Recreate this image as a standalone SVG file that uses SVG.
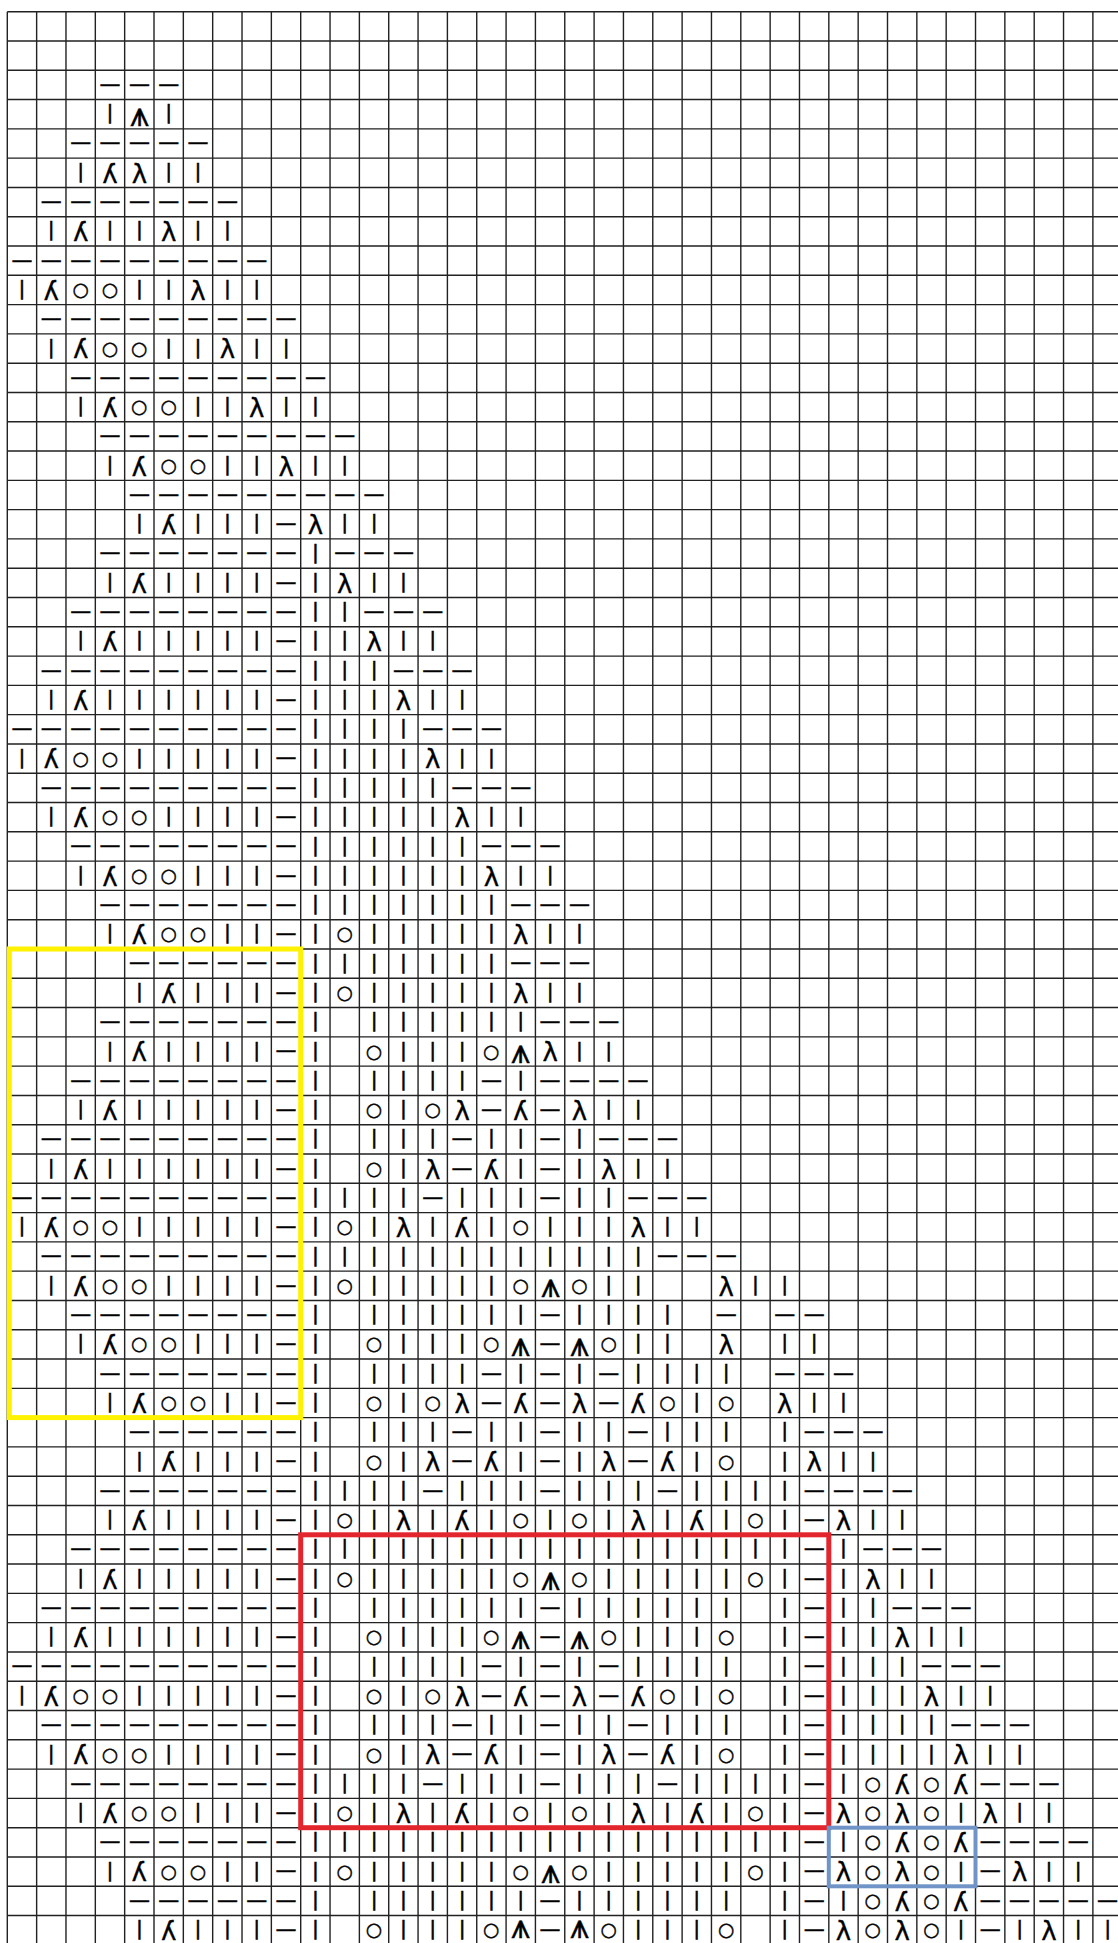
<svg xmlns="http://www.w3.org/2000/svg" width="1118" height="1943" viewBox="0 0 1118 1943">
<style>
.g{fill:none;stroke:#222;stroke-width:1.4}
text{font-family:"DejaVu Sans","Noto Sans",sans-serif;text-anchor:middle;fill:#000}
.k{font-size:19px;stroke:#000;stroke-width:0.6}
.p{font-size:21px;stroke:#000;stroke-width:0.4}
.o{font-size:19px;stroke:#000;stroke-width:0.4}
.r,.l{font-size:26px;stroke:#000;stroke-width:0.35}
.c{font-size:34px;stroke:#000;stroke-width:0.4}
.box{fill:none}
</style>
<rect width="1118" height="1943" fill="#fff"/>
<g id="grid"><path class="g" d="M7.3 11.7V1943M36.64 11.7V1943M65.98 11.7V1943M95.32 11.7V1943M124.66 11.7V1943M154 11.7V1943M183.34 11.7V1943M212.68 11.7V1943M242.02 11.7V1943M271.36 11.7V1943M300.7 11.7V1943M330.04 11.7V1943M359.38 11.7V1943M388.72 11.7V1943M418.06 11.7V1943M447.4 11.7V1943M476.74 11.7V1943M506.08 11.7V1943M535.42 11.7V1943M564.76 11.7V1943M594.1 11.7V1943M623.44 11.7V1943M652.78 11.7V1943M682.12 11.7V1943M711.46 11.7V1943M740.8 11.7V1943M770.14 11.7V1943M799.48 11.7V1943M828.82 11.7V1943M858.16 11.7V1943M887.5 11.7V1943M916.84 11.7V1943M946.18 11.7V1943M975.52 11.7V1943M1004.86 11.7V1943M1034.2 11.7V1943M1063.54 11.7V1943M1092.88 11.7V1943M7.3 11.7H1118M7.3 40.99H1118M7.3 70.28H1118M7.3 99.57H1118M7.3 128.86H1118M7.3 158.15H1118M7.3 187.44H1118M7.3 216.73H1118M7.3 246.02H1118M7.3 275.31H1118M7.3 304.6H1118M7.3 333.89H1118M7.3 363.18H1118M7.3 392.47H1118M7.3 421.76H1118M7.3 451.05H1118M7.3 480.34H1118M7.3 509.63H1118M7.3 538.92H1118M7.3 568.21H1118M7.3 597.5H1118M7.3 626.79H1118M7.3 656.08H1118M7.3 685.37H1118M7.3 714.66H1118M7.3 743.95H1118M7.3 773.24H1118M7.3 802.53H1118M7.3 831.82H1118M7.3 861.11H1118M7.3 890.4H1118M7.3 919.69H1118M7.3 948.98H1118M7.3 978.27H1118M7.3 1007.56H1118M7.3 1036.85H1118M7.3 1066.14H1118M7.3 1095.43H1118M7.3 1124.72H1118M7.3 1154.01H1118M7.3 1183.3H1118M7.3 1212.59H1118M7.3 1241.88H1118M7.3 1271.17H1118M7.3 1300.46H1118M7.3 1329.75H1118M7.3 1359.04H1118M7.3 1388.33H1118M7.3 1417.62H1118M7.3 1446.91H1118M7.3 1476.2H1118M7.3 1505.49H1118M7.3 1534.78H1118M7.3 1564.07H1118M7.3 1593.36H1118M7.3 1622.65H1118M7.3 1651.94H1118M7.3 1681.23H1118M7.3 1710.52H1118M7.3 1739.81H1118M7.3 1769.1H1118M7.3 1798.39H1118M7.3 1827.68H1118M7.3 1856.97H1118M7.3 1886.26H1118M7.3 1915.55H1118"/></g>
<g id="rows">
<g id="r02" transform="translate(0 84.9)"><text class="p" x="110.0 139.4 168.7" y="5.8">———</text></g>
<g id="r03" transform="translate(0 114.2)"><text class="k" x="110.0" y="5">|</text><text class="c" x="139.4" y="11.5">⩚</text><text class="k" x="168.7" y="5">|</text></g>
<g id="r04" transform="translate(0 143.5)"><text class="p" x="80.7 110.0 139.4 168.7 198.0" y="5.8">—————</text></g>
<g id="r05" transform="translate(0 172.8)"><text class="k" x="80.7" y="5">|</text><text class="l" transform="scale(-1 1)" x="-110.0" y="9.8">λ</text><text class="r" x="139.4" y="9.8">λ</text><text class="k" x="168.7 198.0" y="5">||</text></g>
<g id="r06" transform="translate(0 202.1)"><text class="p" x="51.3 80.7 110.0 139.4 168.7 198.0 227.4" y="5.8">———————</text></g>
<g id="r07" transform="translate(0 231.4)"><text class="k" x="51.3" y="5">|</text><text class="l" transform="scale(-1 1)" x="-80.7" y="9.8">λ</text><text class="k" x="110.0 139.4" y="5">||</text><text class="r" x="168.7" y="9.8">λ</text><text class="k" x="198.0 227.4" y="5">||</text></g>
<g id="r08" transform="translate(0 260.7)"><text class="p" x="22.0 51.3 80.7 110.0 139.4 168.7 198.0 227.4 256.7" y="5.8">—————————</text></g>
<g id="r09" transform="translate(0 290.0)"><text class="k" x="22.0" y="5">|</text><text class="l" transform="scale(-1 1)" x="-51.3" y="9.8">λ</text><text class="o" x="80.7 110.0" y="6">○○</text><text class="k" x="139.4 168.7" y="5">||</text><text class="r" x="198.0" y="9.8">λ</text><text class="k" x="227.4 256.7" y="5">||</text></g>
<g id="r10" transform="translate(0 319.3)"><text class="p" x="51.3 80.7 110.0 139.4 168.7 198.0 227.4 256.7 286.1" y="5.8">—————————</text></g>
<g id="r11" transform="translate(0 348.5)"><text class="k" x="51.3" y="5">|</text><text class="l" transform="scale(-1 1)" x="-80.7" y="9.8">λ</text><text class="o" x="110.0 139.4" y="6">○○</text><text class="k" x="168.7 198.0" y="5">||</text><text class="r" x="227.4" y="9.8">λ</text><text class="k" x="256.7 286.1" y="5">||</text></g>
<g id="r12" transform="translate(0 377.8)"><text class="p" x="80.7 110.0 139.4 168.7 198.0 227.4 256.7 286.1 315.4" y="5.8">—————————</text></g>
<g id="r13" transform="translate(0 407.1)"><text class="k" x="80.7" y="5">|</text><text class="l" transform="scale(-1 1)" x="-110.0" y="9.8">λ</text><text class="o" x="139.4 168.7" y="6">○○</text><text class="k" x="198.0 227.4" y="5">||</text><text class="r" x="256.7" y="9.8">λ</text><text class="k" x="286.1 315.4" y="5">||</text></g>
<g id="r14" transform="translate(0 436.4)"><text class="p" x="110.0 139.4 168.7 198.0 227.4 256.7 286.1 315.4 344.7" y="5.8">—————————</text></g>
<g id="r15" transform="translate(0 465.7)"><text class="k" x="110.0" y="5">|</text><text class="l" transform="scale(-1 1)" x="-139.4" y="9.8">λ</text><text class="o" x="168.7 198.0" y="6">○○</text><text class="k" x="227.4 256.7" y="5">||</text><text class="r" x="286.1" y="9.8">λ</text><text class="k" x="315.4 344.7" y="5">||</text></g>
<g id="r16" transform="translate(0 495.0)"><text class="p" x="139.4 168.7 198.0 227.4 256.7 286.1 315.4 344.7 374.1" y="5.8">—————————</text></g>
<g id="r17" transform="translate(0 524.3)"><text class="k" x="139.4" y="5">|</text><text class="l" transform="scale(-1 1)" x="-168.7" y="9.8">λ</text><text class="k" x="198.0 227.4 256.7" y="5">|||</text><text class="p" x="286.1" y="5.8">—</text><text class="r" x="315.4" y="9.8">λ</text><text class="k" x="344.7 374.1" y="5">||</text></g>
<g id="r18" transform="translate(0 553.6)"><text class="p" x="110.0 139.4 168.7 198.0 227.4 256.7 286.1" y="5.8">———————</text><text class="k" x="315.4" y="5">|</text><text class="p" x="344.7 374.1 403.4" y="5.8">———</text></g>
<g id="r19" transform="translate(0 582.9)"><text class="k" x="110.0" y="5">|</text><text class="l" transform="scale(-1 1)" x="-139.4" y="9.8">λ</text><text class="k" x="168.7 198.0 227.4 256.7" y="5">||||</text><text class="p" x="286.1" y="5.8">—</text><text class="k" x="315.4" y="5">|</text><text class="r" x="344.7" y="9.8">λ</text><text class="k" x="374.1 403.4" y="5">||</text></g>
<g id="r20" transform="translate(0 612.2)"><text class="p" x="80.7 110.0 139.4 168.7 198.0 227.4 256.7 286.1" y="5.8">————————</text><text class="k" x="315.4 344.7" y="5">||</text><text class="p" x="374.1 403.4 432.8" y="5.8">———</text></g>
<g id="r21" transform="translate(0 641.4)"><text class="k" x="80.7" y="5">|</text><text class="l" transform="scale(-1 1)" x="-110.0" y="9.8">λ</text><text class="k" x="139.4 168.7 198.0 227.4 256.7" y="5">|||||</text><text class="p" x="286.1" y="5.8">—</text><text class="k" x="315.4 344.7" y="5">||</text><text class="r" x="374.1" y="9.8">λ</text><text class="k" x="403.4 432.8" y="5">||</text></g>
<g id="r22" transform="translate(0 670.7)"><text class="p" x="51.3 80.7 110.0 139.4 168.7 198.0 227.4 256.7 286.1" y="5.8">—————————</text><text class="k" x="315.4 344.7 374.1" y="5">|||</text><text class="p" x="403.4 432.8 462.1" y="5.8">———</text></g>
<g id="r23" transform="translate(0 700.0)"><text class="k" x="51.3" y="5">|</text><text class="l" transform="scale(-1 1)" x="-80.7" y="9.8">λ</text><text class="k" x="110.0 139.4 168.7 198.0 227.4 256.7" y="5">||||||</text><text class="p" x="286.1" y="5.8">—</text><text class="k" x="315.4 344.7 374.1" y="5">|||</text><text class="r" x="403.4" y="9.8">λ</text><text class="k" x="432.8 462.1" y="5">||</text></g>
<g id="r24" transform="translate(0 729.3)"><text class="p" x="22.0 51.3 80.7 110.0 139.4 168.7 198.0 227.4 256.7 286.1" y="5.8">——————————</text><text class="k" x="315.4 344.7 374.1 403.4" y="5">||||</text><text class="p" x="432.8 462.1 491.4" y="5.8">———</text></g>
<g id="r25" transform="translate(0 758.6)"><text class="k" x="22.0" y="5">|</text><text class="l" transform="scale(-1 1)" x="-51.3" y="9.8">λ</text><text class="o" x="80.7 110.0" y="6">○○</text><text class="k" x="139.4 168.7 198.0 227.4 256.7" y="5">|||||</text><text class="p" x="286.1" y="5.8">—</text><text class="k" x="315.4 344.7 374.1 403.4" y="5">||||</text><text class="r" x="432.8" y="9.8">λ</text><text class="k" x="462.1 491.4" y="5">||</text></g>
<g id="r26" transform="translate(0 787.9)"><text class="p" x="51.3 80.7 110.0 139.4 168.7 198.0 227.4 256.7 286.1" y="5.8">—————————</text><text class="k" x="315.4 344.7 374.1 403.4 432.8" y="5">|||||</text><text class="p" x="462.1 491.4 520.8" y="5.8">———</text></g>
<g id="r27" transform="translate(0 817.2)"><text class="k" x="51.3" y="5">|</text><text class="l" transform="scale(-1 1)" x="-80.7" y="9.8">λ</text><text class="o" x="110.0 139.4" y="6">○○</text><text class="k" x="168.7 198.0 227.4 256.7" y="5">||||</text><text class="p" x="286.1" y="5.8">—</text><text class="k" x="315.4 344.7 374.1 403.4 432.8" y="5">|||||</text><text class="r" x="462.1" y="9.8">λ</text><text class="k" x="491.4 520.8" y="5">||</text></g>
<g id="r28" transform="translate(0 846.5)"><text class="p" x="80.7 110.0 139.4 168.7 198.0 227.4 256.7 286.1" y="5.8">————————</text><text class="k" x="315.4 344.7 374.1 403.4 432.8 462.1" y="5">||||||</text><text class="p" x="491.4 520.8 550.1" y="5.8">———</text></g>
<g id="r29" transform="translate(0 875.8)"><text class="k" x="80.7" y="5">|</text><text class="l" transform="scale(-1 1)" x="-110.0" y="9.8">λ</text><text class="o" x="139.4 168.7" y="6">○○</text><text class="k" x="198.0 227.4 256.7" y="5">|||</text><text class="p" x="286.1" y="5.8">—</text><text class="k" x="315.4 344.7 374.1 403.4 432.8 462.1" y="5">||||||</text><text class="r" x="491.4" y="9.8">λ</text><text class="k" x="520.8 550.1" y="5">||</text></g>
<g id="r30" transform="translate(0 905.1)"><text class="p" x="110.0 139.4 168.7 198.0 227.4 256.7 286.1" y="5.8">———————</text><text class="k" x="315.4 344.7 374.1 403.4 432.8 462.1 491.4" y="5">|||||||</text><text class="p" x="520.8 550.1 579.5" y="5.8">———</text></g>
<g id="r31" transform="translate(0 934.3)"><text class="k" x="110.0" y="5">|</text><text class="l" transform="scale(-1 1)" x="-139.4" y="9.8">λ</text><text class="o" x="168.7 198.0" y="6">○○</text><text class="k" x="227.4 256.7" y="5">||</text><text class="p" x="286.1" y="5.8">—</text><text class="k" x="315.4" y="5">|</text><text class="o" x="344.7" y="6">○</text><text class="k" x="374.1 403.4 432.8 462.1 491.4" y="5">|||||</text><text class="r" x="520.8" y="9.8">λ</text><text class="k" x="550.1 579.5" y="5">||</text></g>
<g id="r32" transform="translate(0 963.6)"><text class="p" x="139.4 168.7 198.0 227.4 256.7 286.1" y="5.8">——————</text><text class="k" x="315.4 344.7 374.1 403.4 432.8 462.1 491.4" y="5">|||||||</text><text class="p" x="520.8 550.1 579.5" y="5.8">———</text></g>
<g id="r33" transform="translate(0 992.9)"><text class="k" x="139.4" y="5">|</text><text class="l" transform="scale(-1 1)" x="-168.7" y="9.8">λ</text><text class="k" x="198.0 227.4 256.7" y="5">|||</text><text class="p" x="286.1" y="5.8">—</text><text class="k" x="315.4" y="5">|</text><text class="o" x="344.7" y="6">○</text><text class="k" x="374.1 403.4 432.8 462.1 491.4" y="5">|||||</text><text class="r" x="520.8" y="9.8">λ</text><text class="k" x="550.1 579.5" y="5">||</text></g>
<g id="r34" transform="translate(0 1022.2)"><text class="p" x="110.0 139.4 168.7 198.0 227.4 256.7 286.1" y="5.8">———————</text><text class="k" x="315.4 374.1 403.4 432.8 462.1 491.4 520.8" y="5">|||||||</text><text class="p" x="550.1 579.5 608.8" y="5.8">———</text></g>
<g id="r35" transform="translate(0 1051.5)"><text class="k" x="110.0" y="5">|</text><text class="l" transform="scale(-1 1)" x="-139.4" y="9.8">λ</text><text class="k" x="168.7 198.0 227.4 256.7" y="5">||||</text><text class="p" x="286.1" y="5.8">—</text><text class="k" x="315.4" y="5">|</text><text class="o" x="374.1" y="6">○</text><text class="k" x="403.4 432.8 462.1" y="5">|||</text><text class="o" x="491.4" y="6">○</text><text class="c" x="520.8" y="11.5">⩚</text><text class="r" x="550.1" y="9.8">λ</text><text class="k" x="579.5 608.8" y="5">||</text></g>
<g id="r36" transform="translate(0 1080.8)"><text class="p" x="80.7 110.0 139.4 168.7 198.0 227.4 256.7 286.1" y="5.8">————————</text><text class="k" x="315.4 374.1 403.4 432.8 462.1" y="5">|||||</text><text class="p" x="491.4" y="5.8">—</text><text class="k" x="520.8" y="5">|</text><text class="p" x="550.1 579.5 608.8 638.1" y="5.8">————</text></g>
<g id="r37" transform="translate(0 1110.1)"><text class="k" x="80.7" y="5">|</text><text class="l" transform="scale(-1 1)" x="-110.0" y="9.8">λ</text><text class="k" x="139.4 168.7 198.0 227.4 256.7" y="5">|||||</text><text class="p" x="286.1" y="5.8">—</text><text class="k" x="315.4" y="5">|</text><text class="o" x="374.1" y="6">○</text><text class="k" x="403.4" y="5">|</text><text class="o" x="432.8" y="6">○</text><text class="r" x="462.1" y="9.8">λ</text><text class="p" x="491.4" y="5.8">—</text><text class="l" transform="scale(-1 1)" x="-520.8" y="9.8">λ</text><text class="p" x="550.1" y="5.8">—</text><text class="r" x="579.5" y="9.8">λ</text><text class="k" x="608.8 638.1" y="5">||</text></g>
<g id="r38" transform="translate(0 1139.4)"><text class="p" x="51.3 80.7 110.0 139.4 168.7 198.0 227.4 256.7 286.1" y="5.8">—————————</text><text class="k" x="315.4 374.1 403.4 432.8" y="5">||||</text><text class="p" x="462.1" y="5.8">—</text><text class="k" x="491.4 520.8" y="5">||</text><text class="p" x="550.1" y="5.8">—</text><text class="k" x="579.5" y="5">|</text><text class="p" x="608.8 638.1 667.5" y="5.8">———</text></g>
<g id="r39" transform="translate(0 1168.7)"><text class="k" x="51.3" y="5">|</text><text class="l" transform="scale(-1 1)" x="-80.7" y="9.8">λ</text><text class="k" x="110.0 139.4 168.7 198.0 227.4 256.7" y="5">||||||</text><text class="p" x="286.1" y="5.8">—</text><text class="k" x="315.4" y="5">|</text><text class="o" x="374.1" y="6">○</text><text class="k" x="403.4" y="5">|</text><text class="r" x="432.8" y="9.8">λ</text><text class="p" x="462.1" y="5.8">—</text><text class="l" transform="scale(-1 1)" x="-491.4" y="9.8">λ</text><text class="k" x="520.8" y="5">|</text><text class="p" x="550.1" y="5.8">—</text><text class="k" x="579.5" y="5">|</text><text class="r" x="608.8" y="9.8">λ</text><text class="k" x="638.1 667.5" y="5">||</text></g>
<g id="r40" transform="translate(0 1198.0)"><text class="p" x="22.0 51.3 80.7 110.0 139.4 168.7 198.0 227.4 256.7 286.1" y="5.8">——————————</text><text class="k" x="315.4 344.7 374.1 403.4" y="5">||||</text><text class="p" x="432.8" y="5.8">—</text><text class="k" x="462.1 491.4 520.8" y="5">|||</text><text class="p" x="550.1" y="5.8">—</text><text class="k" x="579.5 608.8" y="5">||</text><text class="p" x="638.1 667.5 696.8" y="5.8">———</text></g>
<g id="r41" transform="translate(0 1227.2)"><text class="k" x="22.0" y="5">|</text><text class="l" transform="scale(-1 1)" x="-51.3" y="9.8">λ</text><text class="o" x="80.7 110.0" y="6">○○</text><text class="k" x="139.4 168.7 198.0 227.4 256.7" y="5">|||||</text><text class="p" x="286.1" y="5.8">—</text><text class="k" x="315.4" y="5">|</text><text class="o" x="344.7" y="6">○</text><text class="k" x="374.1" y="5">|</text><text class="r" x="403.4" y="9.8">λ</text><text class="k" x="432.8" y="5">|</text><text class="l" transform="scale(-1 1)" x="-462.1" y="9.8">λ</text><text class="k" x="491.4" y="5">|</text><text class="o" x="520.8" y="6">○</text><text class="k" x="550.1 579.5 608.8" y="5">|||</text><text class="r" x="638.1" y="9.8">λ</text><text class="k" x="667.5 696.8" y="5">||</text></g>
<g id="r42" transform="translate(0 1256.5)"><text class="p" x="51.3 80.7 110.0 139.4 168.7 198.0 227.4 256.7 286.1" y="5.8">—————————</text><text class="k" x="315.4 344.7 374.1 403.4 432.8 462.1 491.4 520.8 550.1 579.5 608.8 638.1" y="5">||||||||||||</text><text class="p" x="667.5 696.8 726.2" y="5.8">———</text></g>
<g id="r43" transform="translate(0 1285.8)"><text class="k" x="51.3" y="5">|</text><text class="l" transform="scale(-1 1)" x="-80.7" y="9.8">λ</text><text class="o" x="110.0 139.4" y="6">○○</text><text class="k" x="168.7 198.0 227.4 256.7" y="5">||||</text><text class="p" x="286.1" y="5.8">—</text><text class="k" x="315.4" y="5">|</text><text class="o" x="344.7" y="6">○</text><text class="k" x="374.1 403.4 432.8 462.1 491.4" y="5">|||||</text><text class="o" x="520.8" y="6">○</text><text class="c" x="550.1" y="11.5">⩚</text><text class="o" x="579.5" y="6">○</text><text class="k" x="608.8 638.1" y="5">||</text><text class="r" x="726.2" y="9.8">λ</text><text class="k" x="755.5 784.8" y="5">||</text></g>
<g id="r44" transform="translate(0 1315.1)"><text class="p" x="80.7 110.0 139.4 168.7 198.0 227.4 256.7 286.1" y="5.8">————————</text><text class="k" x="315.4 374.1 403.4 432.8 462.1 491.4 520.8" y="5">|||||||</text><text class="p" x="550.1" y="5.8">—</text><text class="k" x="579.5 608.8 638.1 667.5" y="5">||||</text><text class="p" x="726.2 784.8 814.2" y="5.8">———</text></g>
<g id="r45" transform="translate(0 1344.4)"><text class="k" x="80.7" y="5">|</text><text class="l" transform="scale(-1 1)" x="-110.0" y="9.8">λ</text><text class="o" x="139.4 168.7" y="6">○○</text><text class="k" x="198.0 227.4 256.7" y="5">|||</text><text class="p" x="286.1" y="5.8">—</text><text class="k" x="315.4" y="5">|</text><text class="o" x="374.1" y="6">○</text><text class="k" x="403.4 432.8 462.1" y="5">|||</text><text class="o" x="491.4" y="6">○</text><text class="c" x="520.8" y="11.5">⩚</text><text class="p" x="550.1" y="5.8">—</text><text class="c" x="579.5" y="11.5">⩚</text><text class="o" x="608.8" y="6">○</text><text class="k" x="638.1 667.5" y="5">||</text><text class="r" x="726.2" y="9.8">λ</text><text class="k" x="784.8 814.2" y="5">||</text></g>
<g id="r46" transform="translate(0 1373.7)"><text class="p" x="110.0 139.4 168.7 198.0 227.4 256.7 286.1" y="5.8">———————</text><text class="k" x="315.4 374.1 403.4 432.8 462.1" y="5">|||||</text><text class="p" x="491.4" y="5.8">—</text><text class="k" x="520.8" y="5">|</text><text class="p" x="550.1" y="5.8">—</text><text class="k" x="579.5" y="5">|</text><text class="p" x="608.8" y="5.8">—</text><text class="k" x="638.1 667.5 696.8 726.2" y="5">||||</text><text class="p" x="784.8 814.2 843.5" y="5.8">———</text></g>
<g id="r47" transform="translate(0 1403.0)"><text class="k" x="110.0" y="5">|</text><text class="l" transform="scale(-1 1)" x="-139.4" y="9.8">λ</text><text class="o" x="168.7 198.0" y="6">○○</text><text class="k" x="227.4 256.7" y="5">||</text><text class="p" x="286.1" y="5.8">—</text><text class="k" x="315.4" y="5">|</text><text class="o" x="374.1" y="6">○</text><text class="k" x="403.4" y="5">|</text><text class="o" x="432.8" y="6">○</text><text class="r" x="462.1" y="9.8">λ</text><text class="p" x="491.4" y="5.8">—</text><text class="l" transform="scale(-1 1)" x="-520.8" y="9.8">λ</text><text class="p" x="550.1" y="5.8">—</text><text class="r" x="579.5" y="9.8">λ</text><text class="p" x="608.8" y="5.8">—</text><text class="l" transform="scale(-1 1)" x="-638.1" y="9.8">λ</text><text class="o" x="667.5" y="6">○</text><text class="k" x="696.8" y="5">|</text><text class="o" x="726.2" y="6">○</text><text class="r" x="784.8" y="9.8">λ</text><text class="k" x="814.2 843.5" y="5">||</text></g>
<g id="r48" transform="translate(0 1432.3)"><text class="p" x="139.4 168.7 198.0 227.4 256.7 286.1" y="5.8">——————</text><text class="k" x="315.4 374.1 403.4 432.8" y="5">||||</text><text class="p" x="462.1" y="5.8">—</text><text class="k" x="491.4 520.8" y="5">||</text><text class="p" x="550.1" y="5.8">—</text><text class="k" x="579.5 608.8" y="5">||</text><text class="p" x="638.1" y="5.8">—</text><text class="k" x="667.5 696.8 726.2 784.8" y="5">||||</text><text class="p" x="814.2 843.5 872.9" y="5.8">———</text></g>
<g id="r49" transform="translate(0 1461.6)"><text class="k" x="139.4" y="5">|</text><text class="l" transform="scale(-1 1)" x="-168.7" y="9.8">λ</text><text class="k" x="198.0 227.4 256.7" y="5">|||</text><text class="p" x="286.1" y="5.8">—</text><text class="k" x="315.4" y="5">|</text><text class="o" x="374.1" y="6">○</text><text class="k" x="403.4" y="5">|</text><text class="r" x="432.8" y="9.8">λ</text><text class="p" x="462.1" y="5.8">—</text><text class="l" transform="scale(-1 1)" x="-491.4" y="9.8">λ</text><text class="k" x="520.8" y="5">|</text><text class="p" x="550.1" y="5.8">—</text><text class="k" x="579.5" y="5">|</text><text class="r" x="608.8" y="9.8">λ</text><text class="p" x="638.1" y="5.8">—</text><text class="l" transform="scale(-1 1)" x="-667.5" y="9.8">λ</text><text class="k" x="696.8" y="5">|</text><text class="o" x="726.2" y="6">○</text><text class="k" x="784.8" y="5">|</text><text class="r" x="814.2" y="9.8">λ</text><text class="k" x="843.5 872.9" y="5">||</text></g>
<g id="r50" transform="translate(0 1490.9)"><text class="p" x="110.0 139.4 168.7 198.0 227.4 256.7 286.1" y="5.8">———————</text><text class="k" x="315.4 344.7 374.1 403.4" y="5">||||</text><text class="p" x="432.8" y="5.8">—</text><text class="k" x="462.1 491.4 520.8" y="5">|||</text><text class="p" x="550.1" y="5.8">—</text><text class="k" x="579.5 608.8 638.1" y="5">|||</text><text class="p" x="667.5" y="5.8">—</text><text class="k" x="696.8 726.2 755.5 784.8" y="5">||||</text><text class="p" x="814.2 843.5 872.9 902.2" y="5.8">————</text></g>
<g id="r51" transform="translate(0 1520.1)"><text class="k" x="110.0" y="5">|</text><text class="l" transform="scale(-1 1)" x="-139.4" y="9.8">λ</text><text class="k" x="168.7 198.0 227.4 256.7" y="5">||||</text><text class="p" x="286.1" y="5.8">—</text><text class="k" x="315.4" y="5">|</text><text class="o" x="344.7" y="6">○</text><text class="k" x="374.1" y="5">|</text><text class="r" x="403.4" y="9.8">λ</text><text class="k" x="432.8" y="5">|</text><text class="l" transform="scale(-1 1)" x="-462.1" y="9.8">λ</text><text class="k" x="491.4" y="5">|</text><text class="o" x="520.8" y="6">○</text><text class="k" x="550.1" y="5">|</text><text class="o" x="579.5" y="6">○</text><text class="k" x="608.8" y="5">|</text><text class="r" x="638.1" y="9.8">λ</text><text class="k" x="667.5" y="5">|</text><text class="l" transform="scale(-1 1)" x="-696.8" y="9.8">λ</text><text class="k" x="726.2" y="5">|</text><text class="o" x="755.5" y="6">○</text><text class="k" x="784.8" y="5">|</text><text class="p" x="814.2" y="5.8">—</text><text class="r" x="843.5" y="9.8">λ</text><text class="k" x="872.9 902.2" y="5">||</text></g>
<g id="r52" transform="translate(0 1549.4)"><text class="p" x="80.7 110.0 139.4 168.7 198.0 227.4 256.7 286.1" y="5.8">————————</text><text class="k" x="315.4 344.7 374.1 403.4 432.8 462.1 491.4 520.8 550.1 579.5 608.8 638.1 667.5 696.8 726.2 755.5 784.8" y="5">|||||||||||||||||</text><text class="p" x="814.2" y="5.8">—</text><text class="k" x="843.5" y="5">|</text><text class="p" x="872.9 902.2 931.5" y="5.8">———</text></g>
<g id="r53" transform="translate(0 1578.7)"><text class="k" x="80.7" y="5">|</text><text class="l" transform="scale(-1 1)" x="-110.0" y="9.8">λ</text><text class="k" x="139.4 168.7 198.0 227.4 256.7" y="5">|||||</text><text class="p" x="286.1" y="5.8">—</text><text class="k" x="315.4" y="5">|</text><text class="o" x="344.7" y="6">○</text><text class="k" x="374.1 403.4 432.8 462.1 491.4" y="5">|||||</text><text class="o" x="520.8" y="6">○</text><text class="c" x="550.1" y="11.5">⩚</text><text class="o" x="579.5" y="6">○</text><text class="k" x="608.8 638.1 667.5 696.8 726.2" y="5">|||||</text><text class="o" x="755.5" y="6">○</text><text class="k" x="784.8" y="5">|</text><text class="p" x="814.2" y="5.8">—</text><text class="k" x="843.5" y="5">|</text><text class="r" x="872.9" y="9.8">λ</text><text class="k" x="902.2 931.5" y="5">||</text></g>
<g id="r54" transform="translate(0 1608.0)"><text class="p" x="51.3 80.7 110.0 139.4 168.7 198.0 227.4 256.7 286.1" y="5.8">—————————</text><text class="k" x="315.4 374.1 403.4 432.8 462.1 491.4 520.8" y="5">|||||||</text><text class="p" x="550.1" y="5.8">—</text><text class="k" x="579.5 608.8 638.1 667.5 696.8 726.2 784.8" y="5">|||||||</text><text class="p" x="814.2" y="5.8">—</text><text class="k" x="843.5 872.9" y="5">||</text><text class="p" x="902.2 931.5 960.9" y="5.8">———</text></g>
<g id="r55" transform="translate(0 1637.3)"><text class="k" x="51.3" y="5">|</text><text class="l" transform="scale(-1 1)" x="-80.7" y="9.8">λ</text><text class="k" x="110.0 139.4 168.7 198.0 227.4 256.7" y="5">||||||</text><text class="p" x="286.1" y="5.8">—</text><text class="k" x="315.4" y="5">|</text><text class="o" x="374.1" y="6">○</text><text class="k" x="403.4 432.8 462.1" y="5">|||</text><text class="o" x="491.4" y="6">○</text><text class="c" x="520.8" y="11.5">⩚</text><text class="p" x="550.1" y="5.8">—</text><text class="c" x="579.5" y="11.5">⩚</text><text class="o" x="608.8" y="6">○</text><text class="k" x="638.1 667.5 696.8" y="5">|||</text><text class="o" x="726.2" y="6">○</text><text class="k" x="784.8" y="5">|</text><text class="p" x="814.2" y="5.8">—</text><text class="k" x="843.5 872.9" y="5">||</text><text class="r" x="902.2" y="9.8">λ</text><text class="k" x="931.5 960.9" y="5">||</text></g>
<g id="r56" transform="translate(0 1666.6)"><text class="p" x="22.0 51.3 80.7 110.0 139.4 168.7 198.0 227.4 256.7 286.1" y="5.8">——————————</text><text class="k" x="315.4 374.1 403.4 432.8 462.1" y="5">|||||</text><text class="p" x="491.4" y="5.8">—</text><text class="k" x="520.8" y="5">|</text><text class="p" x="550.1" y="5.8">—</text><text class="k" x="579.5" y="5">|</text><text class="p" x="608.8" y="5.8">—</text><text class="k" x="638.1 667.5 696.8 726.2 784.8" y="5">|||||</text><text class="p" x="814.2" y="5.8">—</text><text class="k" x="843.5 872.9 902.2" y="5">|||</text><text class="p" x="931.5 960.9 990.2" y="5.8">———</text></g>
<g id="r57" transform="translate(0 1695.9)"><text class="k" x="22.0" y="5">|</text><text class="l" transform="scale(-1 1)" x="-51.3" y="9.8">λ</text><text class="o" x="80.7 110.0" y="6">○○</text><text class="k" x="139.4 168.7 198.0 227.4 256.7" y="5">|||||</text><text class="p" x="286.1" y="5.8">—</text><text class="k" x="315.4" y="5">|</text><text class="o" x="374.1" y="6">○</text><text class="k" x="403.4" y="5">|</text><text class="o" x="432.8" y="6">○</text><text class="r" x="462.1" y="9.8">λ</text><text class="p" x="491.4" y="5.8">—</text><text class="l" transform="scale(-1 1)" x="-520.8" y="9.8">λ</text><text class="p" x="550.1" y="5.8">—</text><text class="r" x="579.5" y="9.8">λ</text><text class="p" x="608.8" y="5.8">—</text><text class="l" transform="scale(-1 1)" x="-638.1" y="9.8">λ</text><text class="o" x="667.5" y="6">○</text><text class="k" x="696.8" y="5">|</text><text class="o" x="726.2" y="6">○</text><text class="k" x="784.8" y="5">|</text><text class="p" x="814.2" y="5.8">—</text><text class="k" x="843.5 872.9 902.2" y="5">|||</text><text class="r" x="931.5" y="9.8">λ</text><text class="k" x="960.9 990.2" y="5">||</text></g>
<g id="r58" transform="translate(0 1725.2)"><text class="p" x="51.3 80.7 110.0 139.4 168.7 198.0 227.4 256.7 286.1" y="5.8">—————————</text><text class="k" x="315.4 374.1 403.4 432.8" y="5">||||</text><text class="p" x="462.1" y="5.8">—</text><text class="k" x="491.4 520.8" y="5">||</text><text class="p" x="550.1" y="5.8">—</text><text class="k" x="579.5 608.8" y="5">||</text><text class="p" x="638.1" y="5.8">—</text><text class="k" x="667.5 696.8 726.2 784.8" y="5">||||</text><text class="p" x="814.2" y="5.8">—</text><text class="k" x="843.5 872.9 902.2 931.5" y="5">||||</text><text class="p" x="960.9 990.2 1019.6" y="5.8">———</text></g>
<g id="r59" transform="translate(0 1754.5)"><text class="k" x="51.3" y="5">|</text><text class="l" transform="scale(-1 1)" x="-80.7" y="9.8">λ</text><text class="o" x="110.0 139.4" y="6">○○</text><text class="k" x="168.7 198.0 227.4 256.7" y="5">||||</text><text class="p" x="286.1" y="5.8">—</text><text class="k" x="315.4" y="5">|</text><text class="o" x="374.1" y="6">○</text><text class="k" x="403.4" y="5">|</text><text class="r" x="432.8" y="9.8">λ</text><text class="p" x="462.1" y="5.8">—</text><text class="l" transform="scale(-1 1)" x="-491.4" y="9.8">λ</text><text class="k" x="520.8" y="5">|</text><text class="p" x="550.1" y="5.8">—</text><text class="k" x="579.5" y="5">|</text><text class="r" x="608.8" y="9.8">λ</text><text class="p" x="638.1" y="5.8">—</text><text class="l" transform="scale(-1 1)" x="-667.5" y="9.8">λ</text><text class="k" x="696.8" y="5">|</text><text class="o" x="726.2" y="6">○</text><text class="k" x="784.8" y="5">|</text><text class="p" x="814.2" y="5.8">—</text><text class="k" x="843.5 872.9 902.2 931.5" y="5">||||</text><text class="r" x="960.9" y="9.8">λ</text><text class="k" x="990.2 1019.6" y="5">||</text></g>
<g id="r60" transform="translate(0 1783.8)"><text class="p" x="80.7 110.0 139.4 168.7 198.0 227.4 256.7 286.1" y="5.8">————————</text><text class="k" x="315.4 344.7 374.1 403.4" y="5">||||</text><text class="p" x="432.8" y="5.8">—</text><text class="k" x="462.1 491.4 520.8" y="5">|||</text><text class="p" x="550.1" y="5.8">—</text><text class="k" x="579.5 608.8 638.1" y="5">|||</text><text class="p" x="667.5" y="5.8">—</text><text class="k" x="696.8 726.2 755.5 784.8" y="5">||||</text><text class="p" x="814.2" y="5.8">—</text><text class="k" x="843.5" y="5">|</text><text class="o" x="872.9" y="6">○</text><text class="l" transform="scale(-1 1)" x="-902.2" y="9.8">λ</text><text class="o" x="931.5" y="6">○</text><text class="l" transform="scale(-1 1)" x="-960.9" y="9.8">λ</text><text class="p" x="990.2 1019.6 1048.9" y="5.8">———</text></g>
<g id="r61" transform="translate(0 1813.0)"><text class="k" x="80.7" y="5">|</text><text class="l" transform="scale(-1 1)" x="-110.0" y="9.8">λ</text><text class="o" x="139.4 168.7" y="6">○○</text><text class="k" x="198.0 227.4 256.7" y="5">|||</text><text class="p" x="286.1" y="5.8">—</text><text class="k" x="315.4" y="5">|</text><text class="o" x="344.7" y="6">○</text><text class="k" x="374.1" y="5">|</text><text class="r" x="403.4" y="9.8">λ</text><text class="k" x="432.8" y="5">|</text><text class="l" transform="scale(-1 1)" x="-462.1" y="9.8">λ</text><text class="k" x="491.4" y="5">|</text><text class="o" x="520.8" y="6">○</text><text class="k" x="550.1" y="5">|</text><text class="o" x="579.5" y="6">○</text><text class="k" x="608.8" y="5">|</text><text class="r" x="638.1" y="9.8">λ</text><text class="k" x="667.5" y="5">|</text><text class="l" transform="scale(-1 1)" x="-696.8" y="9.8">λ</text><text class="k" x="726.2" y="5">|</text><text class="o" x="755.5" y="6">○</text><text class="k" x="784.8" y="5">|</text><text class="p" x="814.2" y="5.8">—</text><text class="r" x="843.5" y="9.8">λ</text><text class="o" x="872.9" y="6">○</text><text class="r" x="902.2" y="9.8">λ</text><text class="o" x="931.5" y="6">○</text><text class="k" x="960.9" y="5">|</text><text class="r" x="990.2" y="9.8">λ</text><text class="k" x="1019.6 1048.9" y="5">||</text></g>
<g id="r62" transform="translate(0 1842.3)"><text class="p" x="110.0 139.4 168.7 198.0 227.4 256.7 286.1" y="5.8">———————</text><text class="k" x="315.4 344.7 374.1 403.4 432.8 462.1 491.4 520.8 550.1 579.5 608.8 638.1 667.5 696.8 726.2 755.5 784.8" y="5">|||||||||||||||||</text><text class="p" x="814.2" y="5.8">—</text><text class="k" x="843.5" y="5">|</text><text class="o" x="872.9" y="6">○</text><text class="l" transform="scale(-1 1)" x="-902.2" y="9.8">λ</text><text class="o" x="931.5" y="6">○</text><text class="l" transform="scale(-1 1)" x="-960.9" y="9.8">λ</text><text class="p" x="990.2 1019.6 1048.9 1078.2" y="5.8">————</text></g>
<g id="r63" transform="translate(0 1871.6)"><text class="k" x="110.0" y="5">|</text><text class="l" transform="scale(-1 1)" x="-139.4" y="9.8">λ</text><text class="o" x="168.7 198.0" y="6">○○</text><text class="k" x="227.4 256.7" y="5">||</text><text class="p" x="286.1" y="5.8">—</text><text class="k" x="315.4" y="5">|</text><text class="o" x="344.7" y="6">○</text><text class="k" x="374.1 403.4 432.8 462.1 491.4" y="5">|||||</text><text class="o" x="520.8" y="6">○</text><text class="c" x="550.1" y="11.5">⩚</text><text class="o" x="579.5" y="6">○</text><text class="k" x="608.8 638.1 667.5 696.8 726.2" y="5">|||||</text><text class="o" x="755.5" y="6">○</text><text class="k" x="784.8" y="5">|</text><text class="p" x="814.2" y="5.8">—</text><text class="r" x="843.5" y="9.8">λ</text><text class="o" x="872.9" y="6">○</text><text class="r" x="902.2" y="9.8">λ</text><text class="o" x="931.5" y="6">○</text><text class="k" x="960.9" y="5">|</text><text class="p" x="990.2" y="5.8">—</text><text class="r" x="1019.6" y="9.8">λ</text><text class="k" x="1048.9 1078.2" y="5">||</text></g>
<g id="r64" transform="translate(0 1900.9)"><text class="p" x="139.4 168.7 198.0 227.4 256.7 286.1" y="5.8">——————</text><text class="k" x="315.4 374.1 403.4 432.8 462.1 491.4 520.8" y="5">|||||||</text><text class="p" x="550.1" y="5.8">—</text><text class="k" x="579.5 608.8 638.1 667.5 696.8 726.2 784.8" y="5">|||||||</text><text class="p" x="814.2" y="5.8">—</text><text class="k" x="843.5" y="5">|</text><text class="o" x="872.9" y="6">○</text><text class="l" transform="scale(-1 1)" x="-902.2" y="9.8">λ</text><text class="o" x="931.5" y="6">○</text><text class="l" transform="scale(-1 1)" x="-960.9" y="9.8">λ</text><text class="p" x="990.2 1019.6 1048.9 1078.2 1107.6" y="5.8">—————</text></g>
<g id="r65" transform="translate(0 1930.2)"><text class="k" x="139.4" y="5">|</text><text class="l" transform="scale(-1 1)" x="-168.7" y="9.8">λ</text><text class="k" x="198.0 227.4 256.7" y="5">|||</text><text class="p" x="286.1" y="5.8">—</text><text class="k" x="315.4" y="5">|</text><text class="o" x="374.1" y="6">○</text><text class="k" x="403.4 432.8 462.1" y="5">|||</text><text class="o" x="491.4" y="6">○</text><text class="c" x="520.8" y="7.5">⩚</text><text class="p" x="550.1" y="5.8">—</text><text class="c" x="579.5" y="7.5">⩚</text><text class="o" x="608.8" y="6">○</text><text class="k" x="638.1 667.5 696.8" y="5">|||</text><text class="o" x="726.2" y="6">○</text><text class="k" x="784.8" y="5">|</text><text class="p" x="814.2" y="5.8">—</text><text class="r" x="843.5" y="9.8">λ</text><text class="o" x="872.9" y="6">○</text><text class="r" x="902.2" y="9.8">λ</text><text class="o" x="931.5" y="6">○</text><text class="k" x="960.9" y="5">|</text><text class="p" x="990.2" y="5.8">—</text><text class="k" x="1019.6" y="5">|</text><text class="r" x="1048.9" y="9.8">λ</text><text class="k" x="1078.2 1107.6" y="5">||</text></g>
</g>
<g id="frames">
<rect id="yellow-frame" class="box" x="9.3" y="949" width="291.4" height="468.6" stroke="#fff200" stroke-width="5"/>
<rect id="red-frame" class="box" x="300.7" y="1534.8" width="528.1" height="292.9" stroke="#e3262d" stroke-width="5"/>
<rect id="blue-frame" class="box" x="828.8" y="1827.7" width="146.7" height="58.6" stroke="#7094c8" stroke-width="4"/>
</g>
</svg>
